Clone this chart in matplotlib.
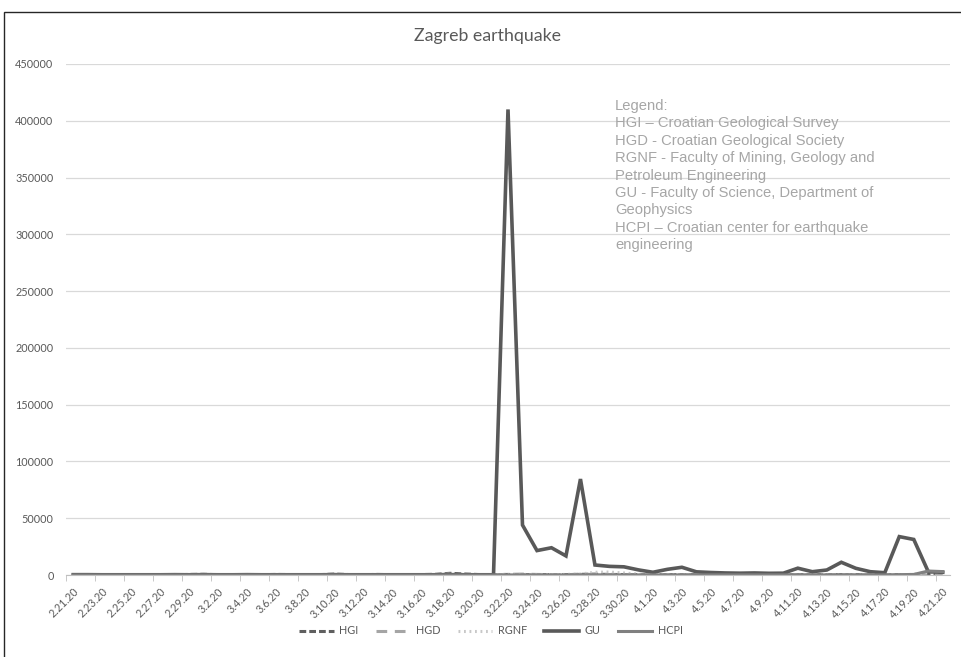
import matplotlib.pyplot as plt
from matplotlib.patches import Rectangle
import numpy as np

# dates 2.21.20 .. 4.21.20 (one value per day)
dates = ["2.21.20", "2.22.20", "2.23.20", "2.24.20", "2.25.20", "2.26.20", "2.27.20",
         "2.28.20", "2.29.20"]
dates += ["3.%d.20" % d for d in range(1, 32)]
dates += ["4.%d.20" % d for d in range(1, 22)]

hgi = [300, 200, 300, 200, 200, 300, 200, 200, 500, 600, 300, 200, 400, 300, 500, 400,
       300, 300, 800, 400, 300, 500, 300, 300, 400, 600, 1500, 900, 400, 300, 500, 300,
       400, 300, 300, 600, 700, 500, 400, 300, 200, 300, 300, 200, 200, 200, 200, 200,
       200, 200, 300, 200, 300, 400, 300, 200, 200, 300, 300, 800, 600]
hgd = [100, 100, 100, 100, 100, 200, 100, 100, 200, 300, 200, 100, 200, 100, 300, 200,
       100, 100, 400, 200, 100, 200, 100, 100, 200, 300, 800, 400, 200, 100, 600, 800,
       500, 300, 400, 500, 600, 400, 300, 200, 100, 100, 100, 100, 100, 100, 100, 100,
       100, 100, 200, 100, 100, 200, 100, 100, 100, 100, 200, 1500, 1200]
rgnf = [0, 0, 0, 0, 0, 0, 0, 0, 100, 100, 0, 0, 100, 0, 100, 100, 0, 0, 200, 100, 0,
        100, 0, 0, 100, 200, 600, 300, 100, 0, 300, 500, 400, 300, 500, 900, 2400, 2600,
        1800, 800, 300, 200, 200, 100, 100, 100, 100, 100, 100, 100, 200, 100, 200, 300,
        200, 100, 100, 300, 500, 2500, 2000]
gu = [300, 300, 200, 200, 200, 200, 200, 300, 200, 300, 200, 200, 300, 200, 200, 200,
      200, 200, 300, 200, 200, 200, 200, 200, 200, 200, 300, 200, 200, 200, 410000,
      44000, 21500, 24000, 16800, 84500, 8800, 7600, 7200, 4500, 2400, 5000, 6800, 2800,
      2200, 1800, 1600, 1800, 1500, 1600, 6000, 2900, 4400, 11200, 5900, 2900, 2000,
      33800, 31300, 2900, 2400]
hcpi = [0, 0, 0, 0, 0, 0, 0, 0, 0, 0, 0, 0, 0, 0, 0, 0, 0, 0, 0, 0, 0, 0, 0, 0, 0, 0,
        0, 0, 0, 0, 100, 100, 100, 100, 100, 200, 200, 100, 100, 100, 100, 100, 100, 100,
        100, 100, 100, 100, 100, 100, 200, 100, 100, 200, 100, 100, 100, 300, 500, 3500,
        3000]

series = [("HGI", hgi), ("HGD", hgd), ("RGNF", rgnf), ("GU", gu), ("HCPI", hcpi)]
styles = {
    "HGI": dict(color="#5f5f5f", linestyle=(0, (2.2, 1.0)), linewidth=2.2),
    "HGD": dict(color="#a5a5a5", linestyle=(0, (3.5, 2.5)), linewidth=2.2),
    "RGNF": dict(color="#c8c8c8", linestyle=(0, (0.6, 1.2)), linewidth=2.2),
    "GU": dict(color="#595959", linestyle="-", linewidth=2.6),
    "HCPI": dict(color="#808080", linestyle="-", linewidth=2.2),
}

legend_text = ("Legend:\n"
               "HGI \u2013 Croatian Geological Survey\n"
               "HGD - Croatian Geological Society\n"
               "RGNF - Faculty of Mining, Geology and\n"
               "Petroleum Engineering\n"
               "GU - Faculty of Science, Department of\n"
               "Geophysics\n"
               "HCPI \u2013 Croatian center for earthquake\n"
               "engineering")

W, H = 962, 657
fig = plt.figure(figsize=(W / 100, H / 100), dpi=100)
plt.rcParams["font.family"] = ["Lato", "DejaVu Sans"]
txt = "#595959"

# chart border
fig.patches.append(Rectangle((4 / W, -0.05), 1.1, 1 - 12 / H + 0.05,
                             transform=fig.transFigure, fill=False,
                             edgecolor="#262626", linewidth=1.0))

ax = fig.add_axes([66 / W, 1 - 575 / H, 884 / W, 511 / H])
x = np.arange(len(dates))
for name, vals in series:
    ax.plot(x, vals, label=name, solid_joinstyle="miter", **styles[name])

ax.set_xlim(-0.5, len(dates) - 0.5)
ax.set_ylim(0, 450000)
ax.set_yticks(np.arange(0, 450001, 50000))
ax.yaxis.grid(True, color="#d9d9d9", linewidth=0.9)
ax.set_axisbelow(True)
for s in ["top", "right", "left"]:
    ax.spines[s].set_visible(False)
ax.spines["bottom"].set_color("#bfbfbf")
ax.tick_params(axis="y", length=0, pad=9, labelsize=7.8, labelcolor=txt)

ax.set_xticks(x[::2])
ax.set_xticklabels(dates[::2], rotation=45, ha="right", rotation_mode="anchor")
ax.set_xticks(np.arange(-0.5, len(dates), 2), minor=True)
ax.tick_params(axis="x", which="major", length=0, pad=8, labelsize=7.8, labelcolor=txt)
ax.tick_params(axis="x", which="minor", length=4, color="#bfbfbf")

fig.text(488 / W, 1 - 36 / H, "Zagreb earthquake", ha="center", va="center",
         fontsize=12.8, color=txt)
fig.text(615 / W, 1 - 99 / H, legend_text, ha="left", va="top",
         fontsize=10.6, color="#a6a6a6", family=["Liberation Sans", "DejaVu Sans"],
         linespacing=1.31)

fig.legend(loc="center", bbox_to_anchor=(491 / W, 1 - 631 / H), ncol=5,
           frameon=False, fontsize=7.8, labelcolor=txt, handlelength=3.2,
           columnspacing=1.6, handletextpad=0.5)

fig.savefig("out.png", dpi=100)
